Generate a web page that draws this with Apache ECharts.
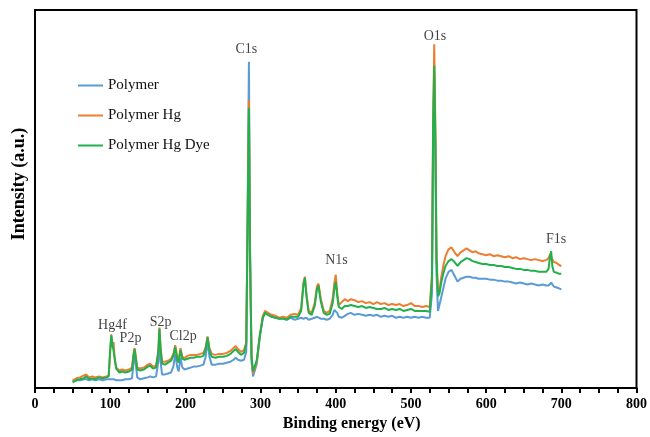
<!DOCTYPE html>
<html>
<head>
<meta charset="utf-8">
<script src="https://cdn.jsdelivr.net/npm/echarts@6/dist/echarts.min.js"></script>
<style>html,body{margin:0;padding:0;background:#fff}#c{width:650px;height:437px}</style>
</head>
<body>
<div id="c"></div>
<script>
// Binding energy (eV)
const energy = [50,55,60,65,68,72,76,80,85,90,95,98,100,101.5,103,104.5,106,108,112,116,120,125,129,131,132.5,134,136,140,145,150,153,157,161,164,165.5,167,169,173,177,181,184,186.5,189,191,193.5,196,199,203,207,211,215,220,224,227,229.5,232,235,240,245,250,255,260,264,267,270,274,278,281,283,284.5,286,288,290,292,295,299,303,306,310,315,320,325,330,335,340,345,350,354,357,359,361,364,368,372,375,377,380,384,388,392,396,398,400,402,404,408,412,416,420,425,430,435,440,445,450,455,460,465,470,475,480,485,490,495,500,505,510,515,520,525,528,529.5,531,532.5,534,536,538,540,543,546,550,554,558,562,566,570,574,578,582,586,590,595,600,605,610,615,620,625,630,635,640,645,650,655,660,665,670,675,680,683,685,686.5,688,690,694,697,700];
// Intensity (a.u.)
const polymer = [10,11,11,12,12,11,12,11,12,11,12,12,12,12,13,12,12,11,11,11,12,12,13,28,38,28,14,12,13,14,15,14,15,30,54,30,17,17,18,19,25,38,25,20,34,24,22,23,24,25,25,26,27,35,52,35,27,27,28,28,29,30,32,34,32,31,32,40,200,337,150,30,15,14,28,55,75,80,78,76,75,74,75,73,75,73,74,75,74,74,75,73,74,75,76,75,74,74,73,74,78,83,85,80,76,75,77,79,80,78,79,78,77,78,77,78,76,77,76,77,75,76,75,76,75,76,75,76,75,75,100,250,325,240,120,82,84,95,105,115,122,124,118,112,115,116,117,117,116,116,115,115,115,114,114,113,113,112,112,111,110,111,110,109,110,109,108,109,108,108,110,111,109,107,106,105,104];
const polymerHg = [11,13,14,16,17,14,15,14,15,14,15,16,40,58,45,50,32,24,21,22,21,22,24,38,44,36,24,23,24,27,28,25,26,40,65,45,30,30,31,33,38,47,36,30,44,35,34,36,37,37,37,38,39,45,56,44,38,37,38,38,39,41,44,46,43,40,42,50,190,298,140,35,18,16,30,57,77,82,80,78,77,75,76,75,78,79,78,85,111,117,100,82,80,90,107,110,95,82,80,82,95,110,119,100,88,91,94,92,94,93,91,92,90,91,89,91,89,90,88,89,88,89,87,88,90,87,87,86,87,86,120,280,355,270,140,98,102,115,128,138,145,147,142,138,142,144,146,144,142,143,141,140,139,140,138,139,138,137,138,136,137,135,136,135,134,135,134,133,134,136,140,141,135,132,131,129,128];
const polymerHgDye = [9,11,12,13,15,12,13,12,14,13,14,15,42,57,48,49,34,23,19,20,19,20,22,36,43,34,22,21,22,25,26,23,24,40,64,43,28,27,29,31,36,45,33,29,42,33,32,33,34,34,35,35,36,43,55,42,35,34,35,35,36,38,41,43,40,37,39,48,185,290,135,35,20,18,32,57,75,80,78,76,75,74,74,73,76,76,76,82,108,116,97,80,78,87,104,108,92,80,78,79,90,104,112,97,86,84,87,87,88,87,86,87,85,86,85,84,84,85,83,84,83,84,82,83,84,82,82,82,82,81,115,270,333,260,135,97,100,110,120,128,133,135,132,128,132,134,136,135,133,132,131,130,130,129,129,128,128,127,127,126,125,125,124,124,123,123,122,122,122,125,138,143,128,122,121,120,120];
const seriesNames = ['Polymer','Polymer Hg','Polymer Hg Dye'];
const seriesColors = ['#5B9BD5','#ED7D31','#21B04B'];
// Peak annotations: name, energy, label height
const peakNames = ['C1s','O1s','N1s','F1s','Hg4f','P2p','S2p','Cl2p'];
const peakEnergies = [281,532,401,693,103,127,167,197];
const peakLabelHeights = [350,363,134,155,67,54,70,56];

const chart = echarts.init(document.getElementById('c'));
const allData = [polymer, polymerHg, polymerHgDye];
const lineSeries = allData.map((d,i)=>({
  name: seriesNames[i], type:'line', showSymbol:false, symbol:'none',
  data: energy.map((e,k)=>[e,d[k]]),
  lineStyle:{width:2,color:seriesColors[i]}, itemStyle:{color:seriesColors[i]},
  z: 2+i, animation:false
}));
const serif = '"Liberation Serif","DejaVu Serif",serif';
lineSeries.push({
  type:'scatter', name:'labels', symbolSize:0, silent:true, animation:false, z:10,
  data: peakNames.map((n,i)=>({name:n, value:[peakEnergies[i], peakLabelHeights[i]]})),
  label:{show:true, position:'inside', formatter:p=>p.name, color:'#111', fontFamily:serif, fontSize:14}
});
chart.setOption({
  animation:false,
  grid:{left:35,right:11,top:10,bottom:40,show:true,borderColor:'#000',borderWidth:2,backgroundColor:'transparent'},
  legend:{data:seriesNames, orient:'vertical', left:73, top:73, itemGap:15, itemWidth:25, itemHeight:2, icon:'rect',
    textStyle:{fontFamily:serif, fontSize:15, color:'#111'}},
  xAxis:{type:'value', min:0, max:800, interval:25,
    axisLine:{show:true, lineStyle:{color:'#000', width:2}},
    axisTick:{show:true, inside:false, length:5, lineStyle:{color:'#000', width:2}},
    splitLine:{show:false},
    axisLabel:{margin:9, formatter:v=> (v%100===0? String(v):''), fontFamily:serif, fontWeight:'bold', fontSize:14, color:'#000'},
    name:'Binding energy (eV)', nameLocation:'middle', nameGap:26,
    nameTextStyle:{fontFamily:serif, fontWeight:'bold', fontSize:16, color:'#000', padding:[0,0,0,32]}},
  yAxis:{type:'value', min:3, max:390,
    axisLine:{show:true, lineStyle:{color:'#000', width:2}},
    axisTick:{show:false}, axisLabel:{show:false}, splitLine:{show:false},
    name:'Intensity (a.u.)', nameLocation:'middle', nameGap:7,
    nameTextStyle:{fontFamily:serif, fontWeight:'bold', fontSize:18, color:'#000', padding:[0,0,0,30]}},
  series: lineSeries
});
</script>
</body>
</html>
